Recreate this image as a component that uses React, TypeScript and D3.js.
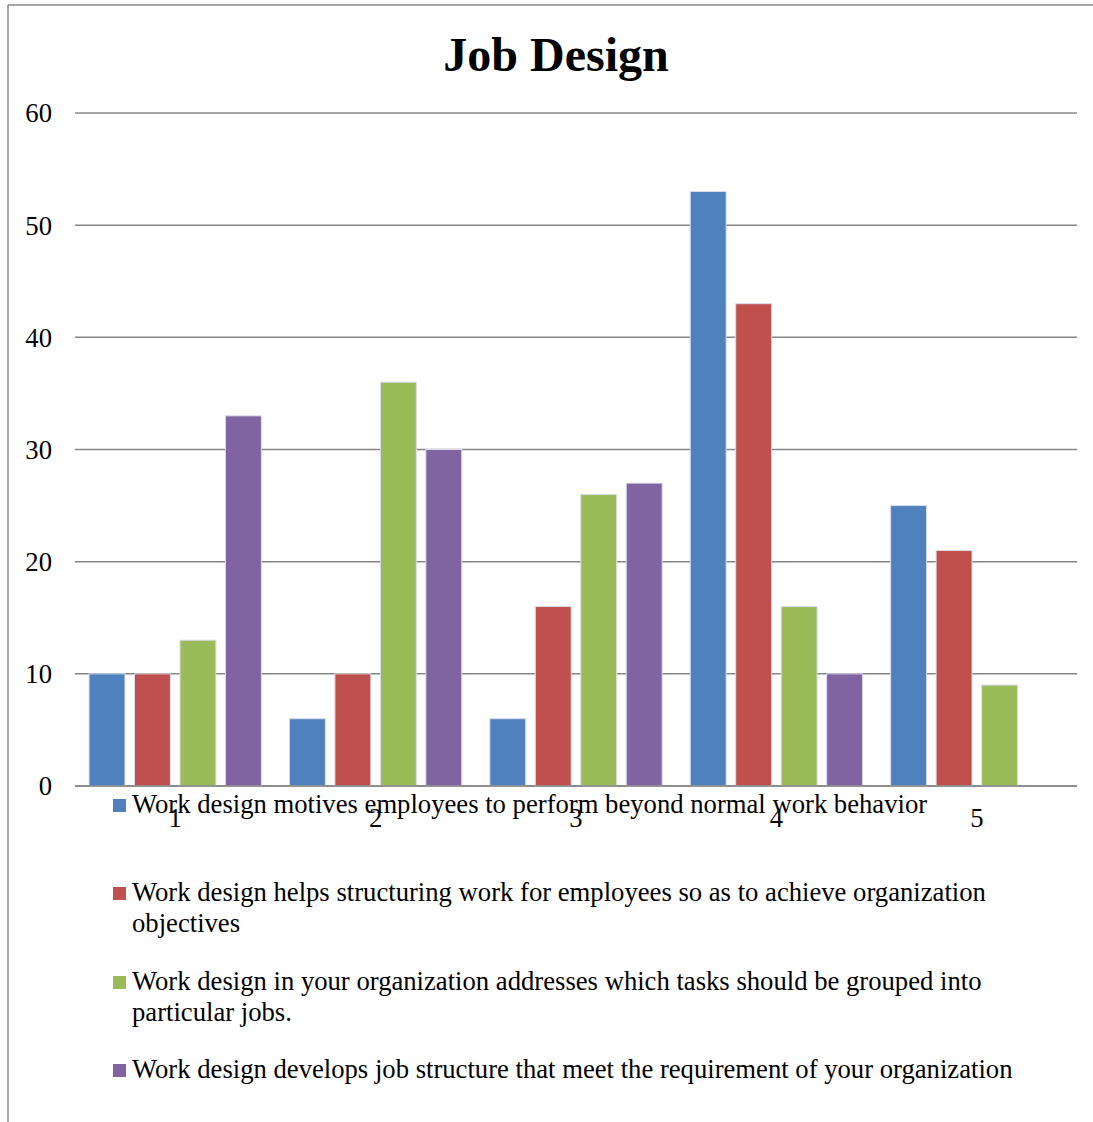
import React from "react";
import * as d3 from "d3";

const categories = ["1", "2", "3", "4", "5"];
const seriesNames = [
  "Work design motives employees to perform beyond normal work behavior",
  "Work design helps structuring work for employees so as to achieve organization objectives",
  "Work design in your organization addresses which tasks should be grouped into particular jobs.",
  "Work design develops job structure that meet the requirement of your organization",
];
const seriesColors = ["#4F81BD", "#C0504D", "#9BBB59", "#8064A2"];
const series1 = [10, 6, 6, 53, 25];
const series2 = [10, 10, 16, 43, 21];
const series3 = [13, 36, 26, 16, 9];
const series4 = [33, 30, 27, 10, 0];
const yTicks = [0, 10, 20, 30, 40, 50, 60];
const title = "Job Design";

const FONT = "'Liberation Serif', 'Times New Roman', Times, serif";
const FS = 26.67;

function wrap(text: string, maxWidth: number, font: string): string[] {
  const c = document.createElement("canvas").getContext("2d");
  if (!c) return [text];
  c.font = font;
  const words = text.split(" ");
  const lines: string[] = [];
  let cur = "";
  for (const w of words) {
    const t = cur ? cur + " " + w : w;
    if (c.measureText(t).width > maxWidth && cur) {
      lines.push(cur);
      cur = w;
    } else cur = t;
  }
  if (cur) lines.push(cur);
  return lines;
}

export default function App() {
  const W = 1093, H = 1122;
  const left = 75, right = 1077, top = 113, bottom = 786;
  const allSeries = [series1, series2, series3, series4];
  const x = d3.scaleBand<string>().domain(categories).range([left, right]).paddingInner(0).paddingOuter(0);
  const y = d3.scaleLinear().domain([0, 60]).range([bottom, top]);
  const band = x.bandwidth();
  const groupPad = band * 0.07;
  const inner = d3.scaleBand<number>().domain([0, 1, 2, 3]).range([groupPad, band - groupPad]).paddingInner(0.21);

  const legendFont = `${FS}px ${FONT}`;
  const legendStarts = [813, 901, 990, 1078];

  return (
    <svg width={W} height={H} style={{ position: "absolute", left: 0, top: 0, background: "#fff" }} fontFamily={FONT}>
      <rect x={0} y={0} width={W} height={H} fill="#fff" />
      <line x1={8} x2={W} y1={5} y2={5} stroke="#8a8a8a" strokeWidth={1.5} />
      <line x1={8} x2={8} y1={5} y2={H} stroke="#8a8a8a" strokeWidth={1.5} />
      <text x={556} y={71} textAnchor="middle" fontSize={48} fontWeight="bold" fill="#000">{title}</text>
      {yTicks.map((t) => (
        <g key={t}>
          <line x1={left} x2={right} y1={y(t)} y2={y(t)} stroke="#868686" strokeWidth={1.5} />
          <text x={52} y={y(t)} dy="0.35em" textAnchor="end" fontSize={FS} fill="#000">{t}</text>
        </g>
      ))}
      {categories.map((c, ci) => (
        <g key={c} transform={`translate(${x(c)},0)`}>
          {allSeries.map((s, si) =>
            s[ci] > 0 ? (
              <rect
                key={si}
                x={inner(si)}
                y={y(s[ci])}
                width={inner.bandwidth()}
                height={y(0) - y(s[ci])}
                fill={seriesColors[si]}
                stroke="#dcdcf0"
                strokeWidth={1}
              />
            ) : null
          )}
        </g>
      ))}
      <line x1={left} x2={right} y1={y(0)} y2={y(0)} stroke="#868686" strokeWidth={1.5} />
      {categories.map((c) => (
        <text key={c} x={(x(c) as number) + band / 2} y={827} textAnchor="middle" fontSize={FS} fill="#000">{c}</text>
      ))}
      {seriesNames.map((name, i) => {
        const lines = wrap(name, 920, legendFont);
        const by = legendStarts[i];
        return (
          <g key={i}>
            <rect x={113} y={by - 14} width={13} height={13} fill={seriesColors[i]} />
            {lines.map((ln, li) => (
              <text key={li} x={132} y={by + li * 31} fontSize={FS} fill="#000">{ln}</text>
            ))}
          </g>
        );
      })}
    </svg>
  );
}
